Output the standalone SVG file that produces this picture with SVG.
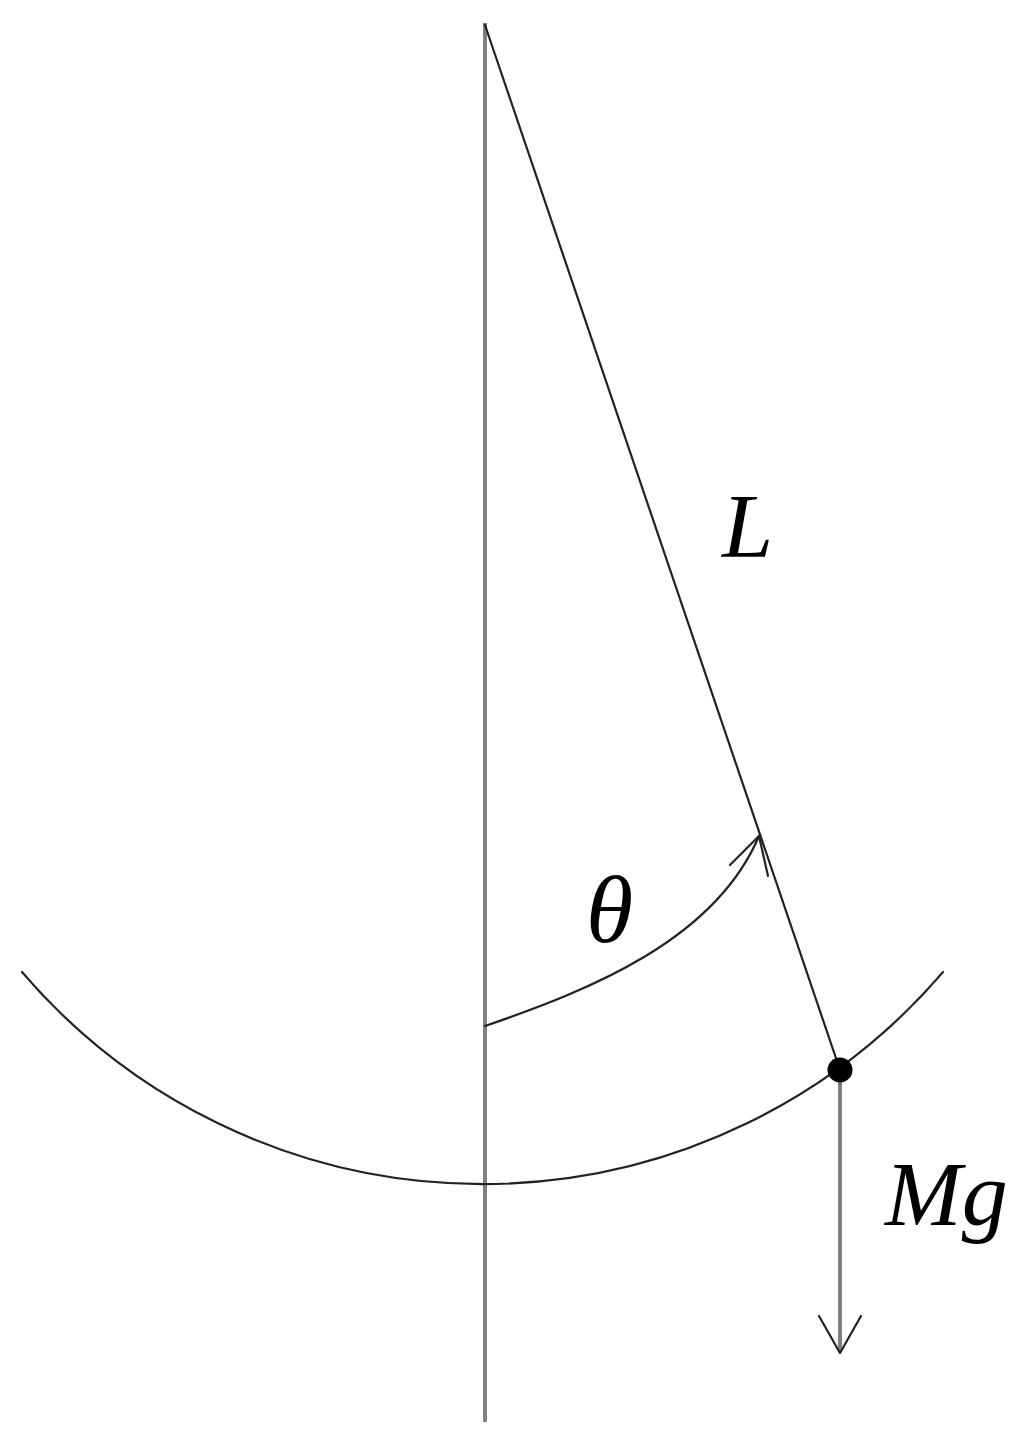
<svg xmlns="http://www.w3.org/2000/svg" width="1029" height="1443" viewBox="0 0 1029 1443">
<style>
.thin{fill:none;stroke:#222;stroke-width:2.2;stroke-linecap:round;stroke-linejoin:round}
.gray{fill:none;stroke:#808080;stroke-width:4}
.lbl{font-family:"Liberation Serif","Times New Roman",serif;font-style:italic;fill:#000}
</style>
<rect width="1029" height="1443" fill="#fff"/>
<g id="connectors">
<line id="vertical" class="gray" x1="485" y1="23" x2="485" y2="1422"/>
<path id="swing-arc" class="thin" d="M22 972 A606 606 0 0 0 943 972"/>
<line id="string" class="thin" x1="485" y1="25" x2="840" y2="1070"/>
<path id="angle-arc" class="thin" d="M485 1026 C590 990 715 940 759 836"/>
<path id="angle-head" class="thin" d="M730 865 L759 836 L768 876"/>
<line id="force" class="gray" x1="840" y1="1070" x2="840" y2="1352"/>
<path id="force-head" class="thin" d="M819 1316 L840 1353 L861 1316"/>
</g>
<g id="bob"><circle cx="840" cy="1070" r="12.5" fill="#000"/></g>
<g id="label-L"><text class="lbl" x="722" y="557" font-size="92">L</text></g>
<g id="label-theta"><text class="lbl" x="586" y="942" font-size="96">θ</text></g>
<g id="label-Mg"><text class="lbl" x="885" y="1225" font-size="92">Mg</text></g>
</svg>
